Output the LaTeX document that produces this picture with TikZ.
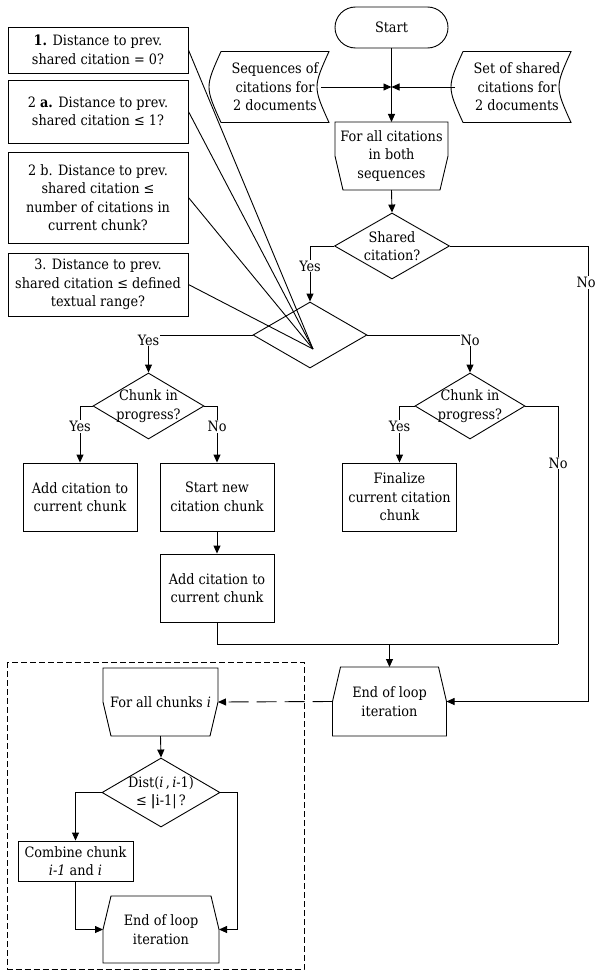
\documentclass[tikz,border=0pt]{standalone}
\usepackage{fontspec}
\setmainfont{DejaVu Serif Condensed}
\usepackage{tikz}
\usetikzlibrary{shapes.geometric,shapes.misc,arrows.meta}

\tikzset{
  term/.style={draw, rounded rectangle, minimum width=115pt, minimum height=41pt, inner sep=1pt},
  procbox/.style={draw, minimum width=114pt, minimum height=68pt, inner sep=1pt, align=center},
  condbox/.style={draw, minimum width=180pt, inner sep=1pt, align=center},
  decis/.style={draw, diamond, inner sep=0pt, minimum width=114pt, minimum height=66pt},
  loopnode/.style={minimum width=114pt, minimum height=68pt, inner sep=1pt, outer sep=0pt, align=center},
  datanode/.style={minimum width=108pt, minimum height=71pt, inner sep=0pt, outer sep=0pt, align=center},
  lbl/.style={fill=white, inner sep=1pt},
}

\begin{document}
\begin{tikzpicture}[x=1pt, y=-1pt, line width=0.9pt, >={Triangle[length=8pt,width=7pt]},
    font=\fontsize{14.3}{18.5}\selectfont]
    \useasboundingbox (0,0) rectangle (596,971);

    % the four conditions
    \node[condbox, minimum height=46pt] (c1) at (98,50) {\textbf{1.} Distance to prev.\\shared citation = 0?};
    \node[condbox, minimum height=63pt] (c2) at (98,111.5) {2 \textbf{a.} Distance to prev.\\shared citation ≤ 1?};
    \node[condbox, minimum height=91pt] (c3) at (98,197.5) {2 b. Distance to prev.\\shared citation ≤\\number of citations in\\current chunk?};
    \node[condbox, minimum height=63pt] (c4) at (98,284.5) {3. Distance to prev.\\shared citation ≤ defined\\textual range?};

    % main loop
    \node[term] (start) at (391.5,27.5) {Start};
    \node[datanode] (seq) at (275,87) {Sequences of\\citations for\\2 documents};
    \node[datanode] (shset) at (517,87) {Set of shared\\citations for\\2 documents};
    \node[loopnode, minimum width=113pt] (forall) at (391.5,156) {For all citations\\in both\\sequences};
    \node[decis, minimum width=115pt, label={[align=center]center:Shared\\citation?}] (shared) at (392,246) {};
    \node[decis] (cond) at (310,335) {};
    \node[decis, minimum width=111pt, label={[align=center]center:Chunk in\\progress?}] (chunkL) at (148.5,406) {};
    \node[decis, minimum width=110pt, label={[align=center]center:Chunk in\\progress?}] (chunkR) at (470,406) {};
    \node[procbox] (addL) at (80,497) {Add citation to\\current chunk};
    \node[procbox] (startnew) at (217,497) {Start new\\citation chunk};
    \node[procbox] (add2) at (217,588) {Add citation to\\current chunk};
    \node[procbox] (final) at (399.5,497) {Finalize\\current citation\\chunk};
    \node[loopnode, minimum height=69pt] (endR) at (389.5,701.5) {End of loop\\iteration};

    % chunk loop
    \draw[dash pattern=on 6pt off 3pt, line width=0.7pt] (7.5,662) rectangle (304,969);
    \node[loopnode, minimum width=115pt] (forchunks) at (160.5,702) {For all chunks \textit{i}};
    \node[decis, minimum width=118pt, minimum height=69pt,
      label={[align=center]center:Dist(\textit{i}\,,\,\textit{i}-1)\\≤ {\bfseries|}i-1|\,?}] (dist) at (161,792.5) {};
    \node[procbox, minimum width=115pt, minimum height=40pt] (combine) at (75.5,861) {Combine chunk\\\textit{i-1} and \textit{i}};
    \node[loopnode, minimum width=116pt, minimum height=67pt] (endL) at (161,929.5) {End of loop\\iteration};

    % outlines
    \foreach \n in {seq,shset}
      \draw (\n.north west) -- (\n.north east) .. controls ([xshift=-16pt]\n.east) .. (\n.south east)
        -- (\n.south west) .. controls ([xshift=-16pt]\n.west) .. (\n.north west) -- cycle;
    \foreach \n in {forall,forchunks}
      \draw (\n.north west) -- (\n.north east) -- (\n.east) -- ([xshift=-8pt]\n.south east)
        -- ([xshift=8pt]\n.south west) -- (\n.west) -- cycle;
    \foreach \n in {endR,endL}
      \draw ([xshift=8pt]\n.north west) -- ([xshift=-8pt]\n.north east) -- (\n.east) -- (\n.south east)
        -- (\n.south west) -- (\n.west) -- cycle;

    \coordinate (junc) at (start.south |- seq.east);
    \coordinate (meet) at (313,349);
    \coordinate (rrail) at (588,246);
    \coordinate (mergeR) at (558,644);
    \coordinate (irail) at (237,792.5);

    % connectors
    \draw[->] (start.south) -- (forall.north);
    \draw[->] ([xshift=-8pt]seq.east) -- (junc);
    \draw[->] ([xshift=-8pt]shset.west) -- (junc);
    \draw[->] (forall.south) -- (shared.north);
    \draw[->] (shared.west) -| node[lbl, pos=0.68] {Yes} (cond.north);
    \draw[->] (shared.east) -| node[lbl, pos=0.54, xshift=-2pt] {No} (rrail |- endR.east) -- (endR.east);
    \foreach \c in {c1,c2,c3,c4}
      \draw (\c.east) -- (meet);
    \draw[->] (cond.west) -| node[lbl, pos=0.5, yshift=-5pt] {Yes} (chunkL.north);
    \draw[->] (cond.east) -| node[lbl, pos=0.5, yshift=-5pt] {No} (chunkR.north);
    \draw[->] (chunkL.west) -| node[lbl, pos=0.68] {Yes} (addL.north);
    \draw[->] (chunkL.east) -| node[lbl, pos=0.68] {No} (startnew.north);
    \draw[->] (chunkR.west) -| node[lbl, pos=0.68] {Yes} (final.north);
    \draw[->] (startnew.south) -- (add2.north);
    \draw (add2.south) |- (mergeR);
    \draw (chunkR.east) -| node[lbl, pos=0.62] {No} (mergeR);
    \draw[->] (endR.north |- mergeR) -- (endR.north);
    \draw[->, dash pattern=on 20pt off 8pt] (endR.west) -- (forchunks.east);

    \draw[->] (forchunks.south) -- (dist.north);
    \draw[->] (dist.west) -| (combine.north);
    \draw[->] (combine.south) |- (endL.west);
    \draw[->] (dist.east) -| (irail |- endL.east) -- (endL.east);
\end{tikzpicture}
\end{document}
